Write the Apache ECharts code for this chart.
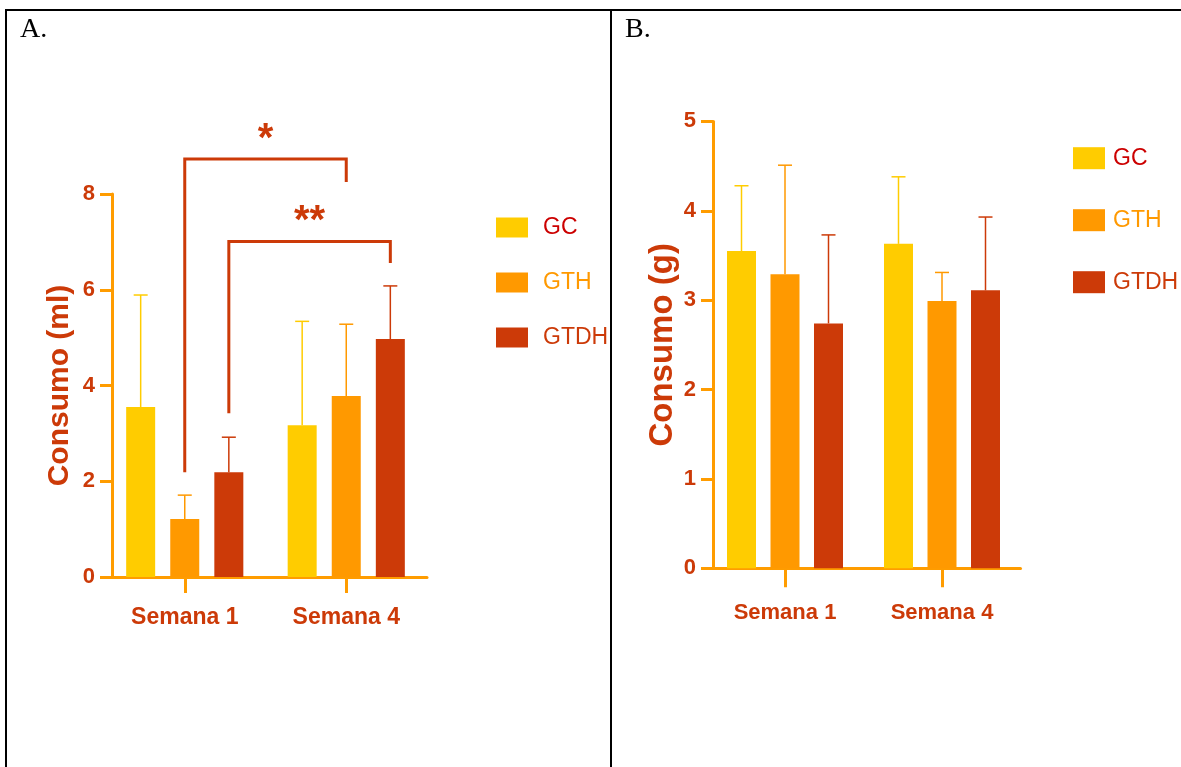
<!DOCTYPE html>
<html>
<head>
<meta charset="utf-8">
<script src="https://cdn.jsdelivr.net/npm/echarts@6/dist/echarts.min.js"></script>
<style>
html,body{margin:0;padding:0;background:#fff;}
#chart{width:1181px;height:767px;}
</style>
</head>
<body>
<div id="chart"></div>
<script>
// ---------- data ----------
const categories = ['Semana 1', 'Semana 4'];
const groups = ['GC', 'GTH', 'GTDH'];

// Panel A: Consumo (ml)
const meanA_GC   = [3.55, 3.17];
const sdA_GC     = [2.34, 2.17];
const meanA_GTH  = [1.21, 3.78];
const sdA_GTH    = [0.50, 1.50];
const meanA_GTDH = [2.19, 4.97];
const sdA_GTDH   = [0.73, 1.11];

// Panel B: Consumo (g)
const meanB_GC   = [3.55, 3.63];
const sdB_GC     = [0.73, 0.75];
const meanB_GTH  = [3.29, 2.99];
const sdB_GTH    = [1.22, 0.32];
const meanB_GTDH = [2.74, 3.11];
const sdB_GTDH   = [0.99, 0.82];

const yTicksA = [0, 2, 4, 6, 8];
const yTicksB = [0, 1, 2, 3, 4, 5];

// Significance brackets (panel A): group compared across weeks
const sigLabels = ['*', '**'];
const sigGroup  = [1, 2];          // index in groups
const sigLeftY  = [2.19, 3.42];
const sigTopY   = [8.73, 7.01];
const sigRightY = [8.25, 6.56];

// ---------- styles ----------
const AX = '#FF9C00';
const TXT = '#CC3A08';
const barColors = ['#FFCC00', '#FF9900', '#CC3A08'];
const legendTextColors = ['#CC0000', '#FF9900', '#CC3A08'];
const SANS = "'Liberation Sans', Arial, sans-serif";

const BAR_W = 29;
const GAP_A = 0.52, GAP_B = 0.50;

const meansA = [meanA_GC, meanA_GTH, meanA_GTDH];
const sdsA = [sdA_GC, sdA_GTH, sdA_GTDH];
const meansB = [meanB_GC, meanB_GTH, meanB_GTDH];
const sdsB = [sdB_GC, sdB_GTH, sdB_GTDH];

function barSeries(means, axisIdx, gap) {
  return groups.map((g, k) => ({
    type: 'bar', name: g, xAxisIndex: axisIdx, yAxisIndex: axisIdx,
    data: means[k], barWidth: BAR_W, barGap: (gap * 100) + '%',
    itemStyle: { color: barColors[k] }, z: 2
  }));
}

function errSeries(means, sds, axisIdx, gap) {
  return groups.map((g, k) => ({
    type: 'custom', name: g + ' err', xAxisIndex: axisIdx, yAxisIndex: axisIdx,
    data: means[k].map((m, i) => [i, m, m + sds[k][i]]),
    z: 3, clip: false,
    renderItem: function (params, api) {
      const p0 = api.coord([api.value(0), api.value(1)]);
      const p1 = api.coord([api.value(0), api.value(2)]);
      const cx = p0[0] + (k - 1) * BAR_W * (1 + gap);
      const st = { stroke: barColors[k], lineWidth: 1.5 };
      return { type: 'group', children: [
        { type: 'line', shape: { x1: cx, y1: p0[1], x2: cx, y2: p1[1] }, style: st },
        { type: 'line', shape: { x1: cx - 7, y1: p1[1], x2: cx + 7, y2: p1[1] }, style: st }
      ]};
    }
  }));
}

const sigSeries = {
  type: 'custom', name: 'sig', xAxisIndex: 0, yAxisIndex: 0, clip: false, z: 4,
  data: sigLabels.map((s, i) => [0, 1, sigGroup[i], sigLeftY[i], sigTopY[i], sigRightY[i], i]),
  renderItem: function (params, api) {
    const k = api.value(2);
    const off = (k - 1) * BAR_W * (1 + GAP_A);
    const lb = api.coord([api.value(0), api.value(3)]);
    const lt = api.coord([api.value(0), api.value(4)]);
    const rb = api.coord([api.value(1), api.value(5)]);
    const xl = lb[0] + off, xr = rb[0] + off;
    const label = sigLabels[api.value(6)];
    return { type: 'group', children: [
      { type: 'polyline', shape: { points: [[xl, lb[1]], [xl, lt[1]], [xr, lt[1]], [xr, rb[1]]] },
        style: { stroke: TXT, lineWidth: 3, fill: null } },
      { type: 'text', x: (xl + xr) / 2, y: lt[1] - 19,
        style: { text: label, fill: TXT, font: 'bold 40px ' + SANS, align: 'center', verticalAlign: 'middle' } }
    ]};
  }
};

function yAxisCfg(grid, max, interval, offset, name, nameGap, nameSize) {
  return {
    gridIndex: grid, type: 'value', min: 0, max: max, interval: interval, offset: offset,
    name: name, nameLocation: 'middle', nameRotate: 90, nameGap: nameGap,
    nameTextStyle: { color: TXT, fontFamily: SANS, fontWeight: 'bold', fontSize: nameSize },
    axisLine: { show: true, lineStyle: { color: AX, width: 3 } },
    axisTick: { show: true, length: 12, lineStyle: { color: AX, width: 3 } },
    splitLine: { show: false },
    axisLabel: { color: TXT, fontFamily: SANS, fontWeight: 'bold', fontSize: 22, margin: 17 }
  };
}
function xAxisCfg(grid, tickLen, margin, size) {
  return {
    gridIndex: grid, type: 'category', data: categories,
    axisLine: { show: true, lineStyle: { color: AX, width: 3 } },
    axisTick: { show: true, alignWithLabel: true, length: tickLen, lineStyle: { color: AX, width: 3 } },
    axisLabel: { interval: 0, color: TXT, fontFamily: SANS, fontWeight: 'bold', fontSize: size, margin: margin }
  };
}

const option = {
  animation: false,
  backgroundColor: '#ffffff',
  grid: [
    { left: 104, top: 194, width: 323, height: 383 },
    { left: 706.5, top: 121.4, width: 314, height: 446.9 }
  ],
  xAxis: [ xAxisCfg(0, 16, 29, 23), xAxisCfg(1, 19, 34, 22) ],
  yAxis: [
    yAxisCfg(0, yTicksA[yTicksA.length - 1], yTicksA[1] - yTicksA[0], -8, 'Consumo (ml)', 37, 30),
    yAxisCfg(1, yTicksB[yTicksB.length - 1], yTicksB[1] - yTicksB[0], -6.5, 'Consumo (g)', 33, 33)
  ],
  legend: [
    { orient: 'vertical', left: 491, top: 211, itemWidth: 32, itemHeight: 20, itemGap: 32,
      icon: 'rect', selectedMode: false,
      textStyle: { fontFamily: SANS, fontSize: 23, lineHeight: 20, padding: [0, 0, 0, 10] },
      data: groups.map((g, k) => ({ name: g, textStyle: { color: legendTextColors[k] } })) },
    { orient: 'vertical', left: 1068, top: 141.7, itemWidth: 32, itemHeight: 22, itemGap: 39,
      icon: 'rect', selectedMode: false,
      textStyle: { fontFamily: SANS, fontSize: 23, lineHeight: 22, padding: [0, 0, 0, 3] },
      data: groups.map((g, k) => ({ name: g, textStyle: { color: legendTextColors[k] } })) }
  ],
  graphic: [
    { type: 'line', shape: { x1: 5, y1: 10, x2: 1181, y2: 10 }, style: { stroke: '#000', lineWidth: 2 } },
    { type: 'line', shape: { x1: 6, y1: 10, x2: 6, y2: 767 }, style: { stroke: '#000', lineWidth: 2 } },
    { type: 'line', shape: { x1: 611, y1: 10, x2: 611, y2: 767 }, style: { stroke: '#000', lineWidth: 2 } },
    { type: 'text', x: 20, y: 30, style: { text: 'A.', fill: '#000', font: "28px 'Liberation Serif', 'Times New Roman', serif", verticalAlign: 'middle' } },
    { type: 'text', x: 625, y: 30, style: { text: 'B.', fill: '#000', font: "28px 'Liberation Serif', 'Times New Roman', serif", verticalAlign: 'middle' } }
  ],
  series: [].concat(
    barSeries(meansA, 0, GAP_A),
    errSeries(meansA, sdsA, 0, GAP_A),
    barSeries(meansB, 1, GAP_B),
    errSeries(meansB, sdsB, 1, GAP_B),
    [sigSeries]
  )
};

const chart = echarts.init(document.getElementById('chart'), null, { renderer: 'canvas' });
chart.setOption(option);
</script>
</body>
</html>
